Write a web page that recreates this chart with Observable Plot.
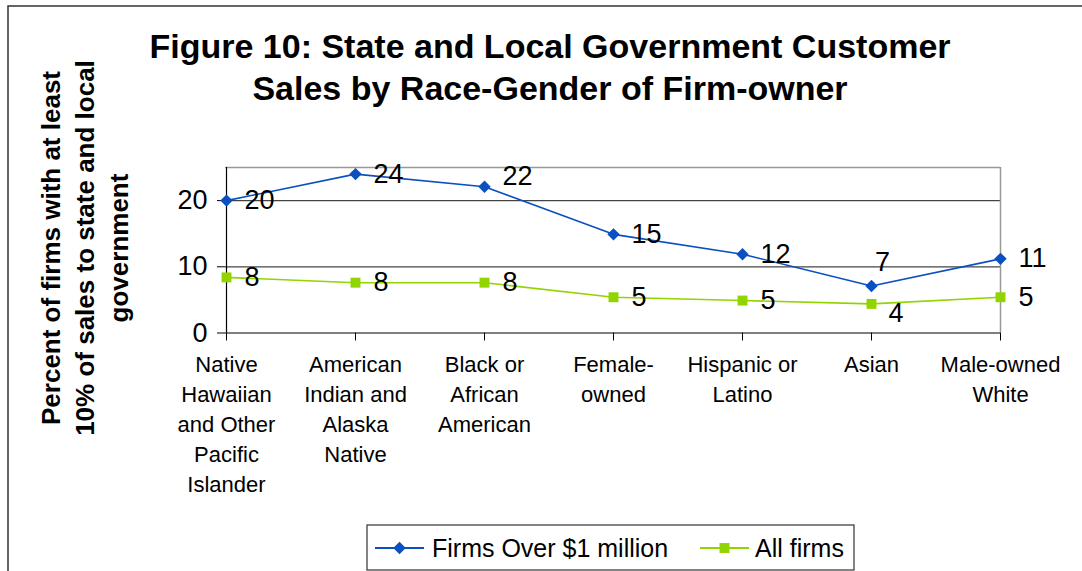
<!DOCTYPE html>
<html><head><meta charset="utf-8">
<script src="https://cdn.jsdelivr.net/npm/d3@7"></script>
<script src="https://cdn.jsdelivr.net/npm/@observablehq/plot@0.6"></script>
<style>body{margin:0;background:#fff;} svg{overflow:visible}</style>
</head><body><div id="chart"></div>
<script>
const categories = ["Native Hawaiian and Other Pacific Islander", "American Indian and Alaska Native", "Black or African American", "Female-owned", "Hispanic or Latino", "Asian", "Male-owned White"];
const categoryLabels = ["Native\nHawaiian\nand Other\nPacific\nIslander", "American\nIndian and\nAlaska\nNative", "Black or\nAfrican\nAmerican", "Female-\nowned", "Hispanic or\nLatino", "Asian", "Male-owned\nWhite"];
const seriesNames = ["Firms Over $1 million", "All firms"];
const over1m = [20, 24, 22.1, 14.9, 11.9, 7.1, 11.2];
const allFirms = [8.4, 7.6, 7.6, 5.4, 4.9, 4.4, 5.4];
const yTicks = [0, 10, 20];
const yMax = 25;
const titleLines = ["Figure 10: State and Local Government Customer", "Sales by Race-Gender of Firm-owner"];
const yTitleLines = ["Percent of firms with at least", "10% of sales to state and local", "government"];
const colors = ["#0a50c0", "#92d400"];
const symbols = ["diamond2", "square"];

const rows = categories.flatMap((c, i) => [
  {cat: c, series: seriesNames[0], value: over1m[i], i},
  {cat: c, series: seriesNames[1], value: allFirms[i], i}
]);
const fmt = v => String(Math.round(v));
const s0 = rows.filter(d => d.series === seriesNames[0]);
const s1 = rows.filter(d => d.series === seriesNames[1]);

const font = "Liberation Sans, Arial, sans-serif";
const chart = Plot.plot({
  width: 1082, height: 571,
  marginLeft: 225, marginRight: 82, marginTop: 167, marginBottom: 238.5,
  style: {fontFamily: font, background: "#fff", overflow: "visible"},
  x: {type: "point", domain: categories, padding: 0},
  y: {domain: [0, yMax]},
  color: {domain: seriesNames, range: colors},
  symbol: {domain: seriesNames, range: symbols},
  marks: [
    Plot.gridY(yTicks.filter(t => t > 0), {stroke: "#444", strokeOpacity: 1, strokeWidth: 1.2}),
    Plot.ruleY([yMax], {stroke: "#999", strokeWidth: 1.5}),
    Plot.ruleX([categories[categories.length - 1]], {stroke: "#999", strokeWidth: 1.5}),
    Plot.axisY({ticks: yTicks, tickSize: 8, tickPadding: 10, fontSize: 27, label: null, color: "#000"}),
    Plot.axisX({tickSize: 8, tickPadding: 10, fontSize: 22, lineHeight: 1.36, label: null, color: "#000",
      tickFormat: d => categoryLabels[categories.indexOf(d)]}),
    Plot.ruleX([categories[0]], {stroke: "#000", strokeWidth: 1.2}),
    Plot.ruleY([0], {stroke: "#000", strokeWidth: 1.2}),
    Plot.line(rows, {x: "cat", y: "value", z: "series", stroke: "series", strokeWidth: 1.6}),
    Plot.dot(rows, {x: "cat", y: "value", fill: "series", symbol: "series", r: 5.6, stroke: "none"}),
    Plot.text(s0.filter(d => d.i !== 2 && d.i !== 5), {x: "cat", y: "value", text: d => fmt(d.value), dx: 18, textAnchor: "start", fontSize: 27, fill: "#000"}),
    Plot.text(s0.filter(d => d.i === 2), {x: "cat", y: "value", text: d => fmt(d.value), dx: 18, dy: -10, textAnchor: "start", fontSize: 27, fill: "#000"}),
    Plot.text(s0.filter(d => d.i === 5), {x: "cat", y: "value", text: d => fmt(d.value), dx: 11, dy: -24, textAnchor: "middle", fontSize: 27, fill: "#000"}),
    Plot.text(s1.filter(d => d.i !== 5), {x: "cat", y: "value", text: d => fmt(d.value), dx: 18, textAnchor: "start", fontSize: 27, fill: "#000"}),
    Plot.text(s1.filter(d => d.i === 5), {x: "cat", y: "value", text: d => fmt(d.value), dx: 17, dy: 9, textAnchor: "start", fontSize: 27, fill: "#000"})
  ]
});
document.getElementById("chart").appendChild(chart);

const svg = d3.select(chart);
// outer frame
svg.insert("rect", ":first-child").attr("x", 8).attr("y", 6).attr("width", 1200).attr("height", 700)
  .attr("fill", "none").attr("stroke", "#333").attr("stroke-width", 1.5);
// title
svg.append("text").attr("x", 550).attr("y", 58).attr("text-anchor", "middle")
  .attr("font-family", font).attr("font-weight", "bold").attr("font-size", 34).attr("fill", "#000")
  .selectAll("tspan").data(titleLines).join("tspan").attr("x", 550).attr("dy", (d, i) => i ? 42 : 0).text(d => d);
// y title
const yt = svg.append("text").attr("transform", "translate(85,248) rotate(-90)").attr("text-anchor", "middle")
  .attr("font-family", font).attr("font-weight", "bold").attr("font-size", 26).attr("fill", "#000");
yt.selectAll("tspan").data(yTitleLines).join("tspan").attr("x", 0).attr("y", (d, i) => (i - 1) * 34 + 9).text(d => d);
// legend
const lg = svg.append("g");
lg.append("rect").attr("x", 367).attr("y", 525).attr("width", 487).attr("height", 45)
  .attr("fill", "#fff").attr("stroke", "#333").attr("stroke-width", 1.2);
const items = [{x: 375, tx: 432}, {x: 700, tx: 755}];
seriesNames.forEach((name, k) => {
  const it = items[k];
  lg.append("line").attr("x1", it.x).attr("x2", it.x + 49).attr("y1", 548).attr("y2", 548)
    .attr("stroke", colors[k]).attr("stroke-width", 1.8);
  lg.append("path").attr("transform", `translate(${it.x + 24.5},548)`)
    .attr("d", d3.symbol(k === 0 ? d3.symbolDiamond2 : d3.symbolSquare, Math.PI * 5.6 * 5.6)())
    .attr("fill", colors[k]);
  lg.append("text").attr("x", it.tx).attr("y", 557).attr("text-anchor", "start").attr("font-family", font).attr("font-size", 25)
    .attr("fill", "#000").text(name);
});
</script></body></html>
